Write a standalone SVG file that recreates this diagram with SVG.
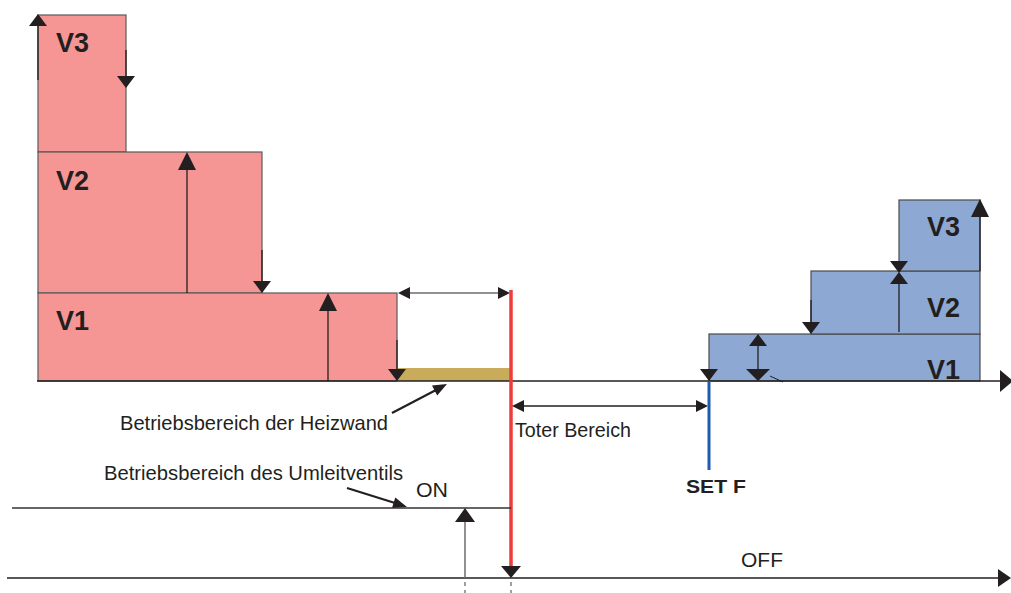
<svg xmlns="http://www.w3.org/2000/svg" xmlns:xlink="http://www.w3.org/1999/xlink" width="1011" height="593" viewBox="0 0 1011 593">
<style>
.red{fill:#F59694;stroke:#5a5a5a;stroke-width:1.2}
.blue{fill:#8DA9D3;stroke:#4a4a4a;stroke-width:1.2}
.lbl{font-family:"Liberation Sans",Arial,sans-serif;font-weight:bold;font-size:27px;fill:#231f20}
.txt{font-family:"Liberation Sans",Arial,sans-serif;font-size:21px;fill:#231f20}
.bt{font-family:"Liberation Sans",Arial,sans-serif;font-weight:bold;font-size:19px;fill:#231f20}
.ln{stroke:#231f20;stroke-width:1.3;fill:none}
.gr{stroke:#6d6d6d;stroke-width:1.5;fill:none}
.ax{stroke:#231f20;stroke-width:1.6;fill:none}
.hd{fill:#231f20}
</style>
<defs>
<path id="dn" d="M-9,-12 L9,-12 L0,0Z"/>
<path id="up" d="M-9,12 L9,12 L0,0Z"/>
<path id="upL" d="M-9,18 L9,18 L0,0Z"/>
<path id="dnW" d="M-10,-12 L10,-12 L0,0Z"/>
<path id="dnXW" d="M-12,-12 L12,-12 L0,0Z"/>
<path id="upW" d="M-10,14 L10,14 L0,0Z"/>
<path id="rt" d="M-12,-6 L-12,6 L0,0Z"/>
<path id="lt" d="M12,-6 L12,6 L0,0Z"/>
<path id="rtB" d="M-13,-11 L-13,11 L0,0Z"/>
<path id="rtM" d="M-13,-9 L-13,9 L0,0Z"/>
</defs>

<g id="heat-v3"><rect class="red" x="38" y="15" width="88" height="137"/><text class="lbl" x="56" y="52">V3</text></g>
<g id="heat-v2"><rect class="red" x="38" y="152" width="224" height="141"/><text class="lbl" x="56" y="190">V2</text></g>
<g id="heat-v1"><rect class="red" x="38" y="293" width="359" height="88"/><text class="lbl" x="56" y="330">V1</text></g>
<g id="heizwand-bar"><rect x="398" y="368" width="112" height="13" fill="#C8AB5B"/></g>

<g id="cool-v1"><rect class="blue" x="709" y="334" width="271" height="47"/><text class="lbl" x="927" y="379">V1</text></g>
<g id="cool-v2"><rect class="blue" x="811" y="271" width="169" height="63"/><text class="lbl" x="927" y="317">V2</text></g>
<g id="cool-v3"><rect class="blue" x="899" y="200" width="81" height="71"/><text class="lbl" x="927" y="236">V3</text></g>

<g id="connectors">
<line x1="37" y1="381" x2="1000" y2="381" class="ax"/>
<use xlink:href="#rtB" href="#rtB" x="1013" y="381" class="hd"/>
<line x1="38" y1="80" x2="38" y2="20" class="ln"/><use xlink:href="#up" href="#up" x="38" y="14" class="hd"/>
<line x1="126" y1="50" x2="126" y2="80" class="ln"/><use xlink:href="#dn" href="#dn" x="126" y="88" class="hd"/>
<line x1="187" y1="293" x2="187" y2="165" class="ln"/><use xlink:href="#upL" href="#upL" x="187" y="152" class="hd"/>
<line x1="262" y1="250" x2="262" y2="285" class="ln"/><use xlink:href="#dn" href="#dn" x="262" y="293" class="hd"/>
<line x1="328" y1="381" x2="328" y2="305" class="ln"/><use xlink:href="#upL" href="#upL" x="328" y="293" class="hd"/>
<line x1="397" y1="340" x2="397" y2="372" class="ln"/><use xlink:href="#dn" href="#dn" x="397" y="381" class="hd"/>
<line x1="404" y1="293" x2="504" y2="293" class="gr"/>
<use xlink:href="#lt" href="#lt" x="398" y="293" class="hd"/><use xlink:href="#rt" href="#rt" x="510" y="293" class="hd"/>
<line x1="511" y1="290" x2="511" y2="570" stroke="#EE3B3B" stroke-width="3.5"/>
<use xlink:href="#dnW" href="#dnW" x="511" y="578" class="hd"/>
<line x1="518" y1="406" x2="702" y2="406" class="ln"/>
<use xlink:href="#lt" href="#lt" x="512" y="406" class="hd"/><use xlink:href="#rt" href="#rt" x="708" y="406" class="hd"/>
<line x1="709" y1="381" x2="709" y2="470" stroke="#1F5BAE" stroke-width="3"/>
<use xlink:href="#dn" href="#dn" x="709" y="381" class="hd"/>
<line x1="758" y1="340" x2="758" y2="375" class="ln"/>
<use xlink:href="#up" href="#up" x="758" y="334" class="hd"/><use xlink:href="#dnXW" href="#dnXW" x="758" y="381" class="hd"/>
<line x1="811" y1="300" x2="811" y2="326" class="ln"/><use xlink:href="#dn" href="#dn" x="811" y="334" class="hd"/>
<line x1="899" y1="332" x2="899" y2="280" class="ln"/>
<use xlink:href="#up" href="#up" x="899" y="272" class="hd"/><use xlink:href="#dn" href="#dn" x="899" y="273" class="hd"/>
<line x1="980" y1="271" x2="980" y2="212" class="ln"/><use xlink:href="#upL" href="#upL" x="980" y="199" class="hd"/>
<line x1="770" y1="376" x2="783" y2="382" stroke="#231f20" stroke-width="1"/>
<line x1="392" y1="413" x2="436" y2="390" stroke="#231f20" stroke-width="2.2"/>
<polygon points="447,384 437.2,395.4 432,385.6" class="hd"/>
<line x1="347" y1="488" x2="395" y2="503" stroke="#231f20" stroke-width="2.2"/>
<polygon points="407,507 392,508 395.3,497.5" class="hd"/>
<line x1="12" y1="508" x2="511" y2="508" stroke="#333" stroke-width="1.3"/>
<line x1="7" y1="578" x2="1000" y2="578" class="ax"/>
<use xlink:href="#rtM" href="#rtM" x="1011" y="578" class="hd"/>
<line x1="465" y1="578" x2="465" y2="518" stroke="#6d6d6d" stroke-width="1.5"/>
<use xlink:href="#upW" href="#upW" x="465" y="508" class="hd"/>
<line x1="465" y1="582" x2="465" y2="593" stroke="#6d6d6d" stroke-width="1.3" stroke-dasharray="4,4"/>
<line x1="511" y1="582" x2="511" y2="593" stroke="#6d6d6d" stroke-width="1.3" stroke-dasharray="4,4"/>
</g>

<g id="labels">
<text class="txt" x="120" y="430" textLength="268" lengthAdjust="spacingAndGlyphs">Betriebsbereich der Heizwand</text>
<text class="txt" x="104" y="480" textLength="299" lengthAdjust="spacingAndGlyphs">Betriebsbereich des Umleitventils</text>
<text class="txt" x="416" y="497" textLength="32" lengthAdjust="spacingAndGlyphs">ON</text>
<text class="txt" x="515" y="437" textLength="116" lengthAdjust="spacingAndGlyphs">Toter Bereich</text>
<text class="bt" x="686" y="493" textLength="60" lengthAdjust="spacingAndGlyphs">SET F</text>
<text class="txt" x="741" y="567" textLength="42" lengthAdjust="spacingAndGlyphs">OFF</text>
</g>
</svg>
